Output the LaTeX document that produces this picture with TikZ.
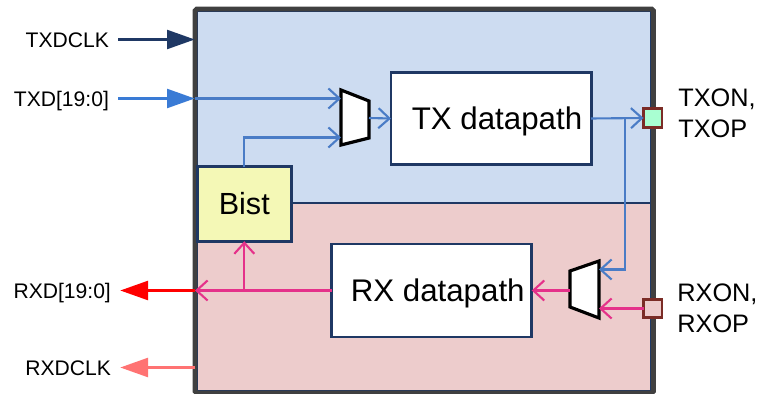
\documentclass[tikz,border=0pt]{standalone}
\usepackage{fontspec}
\setmainfont{Liberation Sans}
\usetikzlibrary{arrows.meta}

\definecolor{chipgray}{HTML}{404040}
\definecolor{chipnavy}{HTML}{1F3864}
\definecolor{txzone}{HTML}{CDDCF1}
\definecolor{rxzone}{HTML}{EDCCCC}
\definecolor{wireblue}{HTML}{4A7CC6}
\definecolor{datblue}{HTML}{3A7BD5}
\definecolor{wirepink}{HTML}{E5318A}
\definecolor{clkred}{HTML}{FF7373}
\definecolor{bistyellow}{HTML}{F4F8B6}
\definecolor{padgreen}{HTML}{A9FFD2}
\definecolor{padbrown}{HTML}{7B2C26}

\begin{document}
\begin{tikzpicture}[
  blk/.style={draw=chipnavy,line width=1.7pt,fill=white,outer sep=0pt,
    text height=12.7pt,text depth=0pt,font=\fontsize{17.8}{20}\selectfont},
  pad/.style={draw=padbrown,line width=1.5pt,minimum size=0.37cm,inner sep=0pt,outer sep=0pt},
  pinlab/.style={font=\fontsize{12}{14}\selectfont,text height=8.6pt,text depth=0pt,
    inner xsep=5pt,inner ysep=0pt,anchor=east},
  padlab/.style={font=\fontsize{14.4}{17.9}\selectfont,align=left,inner sep=0pt,anchor=west},
  mux/.style={draw=black,line width=1.8pt,fill=white},
  bw/.style={draw=wireblue,line width=1.2pt,-{Straight Barb[length=0.22cm,width=0.4cm]}},
  pw/.style={bw,draw=wirepink},
  bigin/.style={line width=2.2pt,-{Triangle[length=0.56cm,width=0.37cm]}},
]
\useasboundingbox (0,0) rectangle (15.18,7.88);

% chip with its two halves
\draw[fill=txzone,draw=chipnavy,line width=0.9pt] (3.95,3.82) rectangle (13.02,7.65);
\draw[fill=rxzone,draw=chipnavy,line width=0.9pt] (3.95,0.06) rectangle (13.02,3.82);
\node[draw=chipgray,line width=2.8pt,rounded corners=1pt,minimum width=9.17cm,
  minimum height=7.68cm,inner sep=0pt,outer sep=0pt] (chip) at (8.485,3.86) {};

% blocks
\node[blk,minimum width=4cm,minimum height=1.84cm] (txdp) at (9.82,5.51) {\hspace{0.24cm}TX datapath};
\node[blk,minimum width=4cm,minimum height=1.86cm] (rxdp) at (8.634,2.07) {\hspace{0.24cm}RX datapath};
\node[blk,fill=bistyellow,minimum width=1.89cm,minimum height=1.49cm,
  text height=12.5pt,font=\fontsize{17.4}{20}\selectfont] (bist) at (4.886,3.80) {Bist};

% pads
\node[pad,fill=padgreen] (txpad) at (13.056,5.52) {};
\node[pad,fill=rxzone] (rxpad) at (13.056,1.71) {};
\node[padlab] (txpadlab) at (13.56,5.61) {TXON,\\TXOP};
\node[padlab] (rxpadlab) at (13.54,1.71) {RXON,\\RXOP};

% muxes
\draw[mux] (6.82,6.08) -- (7.38,5.86) -- (7.38,5.12) -- (6.82,4.98) -- cycle;
\coordinate (txmuxa) at (6.82,5.91);
\coordinate (txmuxb) at (6.82,5.13);
\coordinate (txmuxo) at (7.38,5.52);
\draw[mux] (11.40,2.46) -- (11.98,2.66) -- (11.98,1.52) -- (11.40,1.74) -- cycle;
\coordinate (rxmuxa) at (11.98,2.49);
\coordinate (rxmuxb) at (11.98,1.71);
\coordinate (rxmuxo) at (11.40,2.07);
\coordinate (txtap) at (12.50,5.52);

% pins
\node[pinlab] (txclk) at (2.36,7.09) {TXDCLK};
\node[pinlab] (txd) at (2.36,5.91) {TXD[19:0]};
\node[pinlab] (rxd) at (2.40,2.07) {RXD[19:0]};
\node[pinlab] (rxclk) at (2.40,0.53) {RXDCLK};

\draw[bigin,chipnavy] (txclk) -- (txclk -| chip.west);
\draw[bigin,datblue] (txd) -- (txd -| chip.west);
\draw[bw] (txd -| chip.west) -- (txmuxa);
\draw[bw] (bist.north) |- (txmuxb);
\draw[bw] (txmuxo) -- (txdp.west);
\draw[bw] (txdp.east) -- (txpad.west);
\draw[bw] (txtap) |- (rxmuxa);
\draw[pw] (rxpad.west) -- (rxmuxb);
\draw[pw] (rxmuxo) -- (rxdp.east);
\draw[pw] (rxdp.west) -- (rxdp.west -| chip.west);
\draw[pw] (rxdp.west -| bist.south) -- (bist.south);
\draw[bigin,red] (rxdp.west -| chip.west) -- (rxd);
\draw[bigin,clkred] (rxclk -| chip.west) -- (rxclk);
\end{tikzpicture}
\end{document}
